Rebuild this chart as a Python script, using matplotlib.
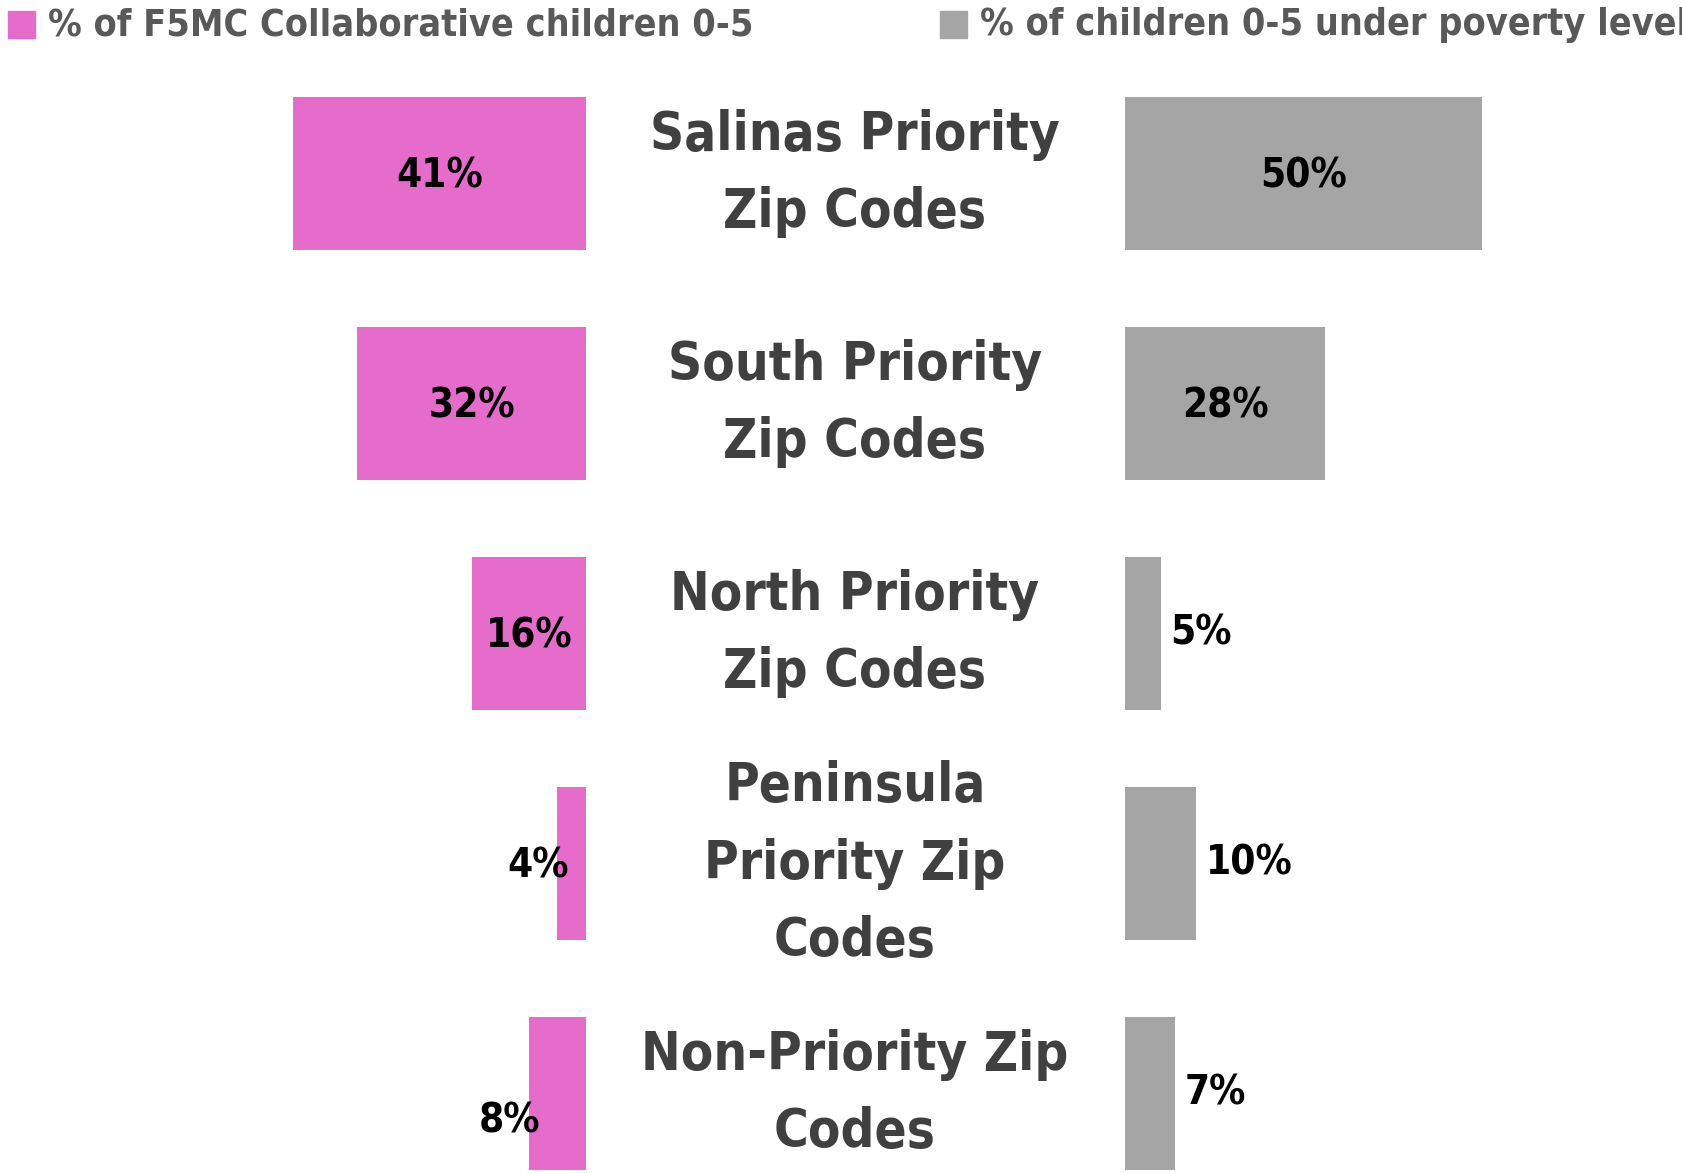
import matplotlib.pyplot as plt
from matplotlib.transforms import blended_transform_factory

# data
regions = ["Salinas Priority\nZip Codes", "South Priority\nZip Codes",
           "North Priority\nZip Codes", "Peninsula\nPriority Zip\nCodes",
           "Non-Priority Zip\nCodes"]
collab = [41, 32, 16, 4, 8]
poverty = [50, 28, 5, 10, 7]
legend_labels = ["% of F5MC Collaborative children 0-5",
                 "% of children 0-5 under poverty level"]

pink = "#E56CCB"
grey = "#A5A5A5"
fam = ["DejaVu Sans"]
stretch = "condensed"

W, H = 1683, 1173
fig = plt.figure(figsize=(W / 100, H / 100), dpi=100)

px_per_pct = 7.15
left_edge = 586
right_start = 1125
ylim = (4.345, -0.753)

axL = fig.add_axes([0, 0, left_edge / W, 1])
axR = fig.add_axes([right_start / W, 0, (W - right_start) / W, 1])
axL.set_xlim(-left_edge / px_per_pct, 0)
axR.set_xlim(0, (W - right_start) / px_per_pct)

y = list(range(len(regions)))
axL.barh(y, [-v for v in collab], height=0.667, color=pink)
axR.barh(y, poverty, height=0.667, color=grey)

for ax in (axL, axR):
    ax.set_ylim(*ylim)
    ax.axis("off")

txt = dict(family=fam, fontstretch=stretch, fontweight="bold", color="black",
           fontsize=29, va="center")
for i, v in enumerate(collab):
    if v >= 15:
        axL.annotate(f"{v}%", (-v / 2, i), xytext=(0, -2), textcoords="offset points",
                     ha="center", **txt)
    else:
        dy = -20 if i == 4 else -2
        axL.annotate(f"{v}%", (-v, i), xytext=(8, dy), textcoords="offset points",
                     ha="right", **txt)
for i, v in enumerate(poverty):
    if v >= 15:
        axR.annotate(f"{v}%", (v / 2, i), xytext=(0, -2), textcoords="offset points",
                     ha="center", **txt)
    else:
        axR.annotate(f"{v}%", (v, i), xytext=(7, 0), textcoords="offset points",
                     ha="left", **txt)

# center category labels
tr = blended_transform_factory(fig.transFigure, axL.transData)
for i, lab in enumerate(regions):
    axL.text(855 / W, i, lab, transform=tr, ha="center", va="center",
             family=fam, fontstretch=stretch, fontweight="bold", color="#404040",
             fontsize=38, linespacing=1.62, clip_on=False)

# legend
for x0, col, lab in [(8, pink, legend_labels[0]), (940, grey, legend_labels[1])]:
    fig.patches.append(plt.Rectangle((x0 / W, 1 - 38 / H), 27 / W, 27 / H,
                                     transform=fig.transFigure, color=col))
    fig.text((x0 + 40) / W, 1 - 25 / H, lab, ha="left", va="center",
             family=fam, fontstretch=stretch, fontweight="bold",
             color="#595959", fontsize=27)

fig.savefig("out.png", dpi=100)
